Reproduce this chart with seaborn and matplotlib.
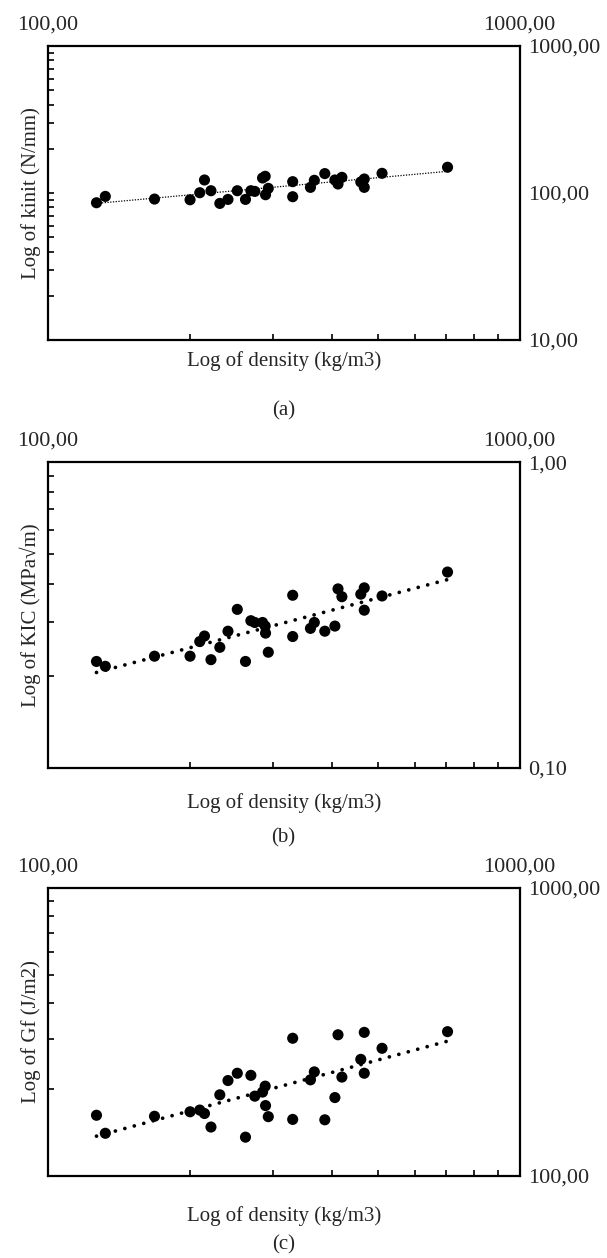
import numpy as np
import pandas as pd
import matplotlib
matplotlib.use('Agg')
import matplotlib.pyplot as plt
import seaborn as sns
from matplotlib.ticker import FuncFormatter, FixedLocator, LogLocator, NullFormatter

# density of each sample (kg/m3), shared by the three plots
density = [126.7, 132.3, 168.2, 200.1, 209.8, 214.7, 221.6, 231.4, 240.8, 252.0,
           262.3, 269.3, 274.5, 285.1, 288.8, 289.3, 293.2, 330.3, 330.3, 360.2,
           367.1, 386.4, 405.9, 412.1, 420.0, 460.6, 468.5, 468.5, 511.0, 703.6]

kinit = [85.9, 94.9, 91.0, 90.0, 100.5, 122.7, 103.7, 85.0, 90.5, 103.7,
         90.5, 103.7, 102.6, 126.6, 130.0, 97.4, 107.6, 119.5, 94.4, 109.3,
         122.1, 135.6, 122.7, 115.2, 127.9, 118.9, 124.6, 109.3, 136.2, 149.8]

kic = [0.223, 0.215, 0.232, 0.232, 0.259, 0.270, 0.226, 0.248, 0.280, 0.330,
       0.223, 0.303, 0.299, 0.299, 0.291, 0.276, 0.239, 0.367, 0.269, 0.286,
       0.299, 0.280, 0.291, 0.385, 0.363, 0.370, 0.388, 0.328, 0.365, 0.437]

gf = [162.5, 140.7, 161.2, 167.1, 169.4, 164.8, 147.9, 191.4, 214.5, 227.4,
      136.4, 223.6, 189.3, 195.6, 205.1, 175.6, 160.7, 300.8, 157.2, 215.7,
      229.9, 156.7, 187.2, 309.3, 220.5, 254.1, 315.3, 227.4, 277.6, 317.1]

x_ticks = [100, 1000]
x_label = 'Log of density (kg/m3)'
y_labels = ['Log of kinit (N/mm)', 'Log of KIC (MPa\u221am)', 'Log of Gf (J/m2)']
y_limits = [(10, 1000), (0.1, 1), (100, 1000)]
panel_names = ['(a)', '(b)', '(c)']

sns.set_style('white')
plt.rcParams['font.family'] = ['Liberation Serif', 'DejaVu Serif']


def comma_formatter(v, pos):
    return f'{v:.2f}'.replace('.', ',')


def draw_panel(ax, values, ylabel, ylim, line_kw, xlabel_pad):
    ax.set_xscale('log')
    ax.set_yscale('log')
    df = pd.DataFrame({'density': density, 'value': values})

    # power law trend (straight line in log-log)
    slope, icpt = np.polyfit(np.log10(df['density']), np.log10(df['value']), 1)
    xs = np.array([df['density'].min(), df['density'].max()])
    ax.plot(xs, 10 ** icpt * xs ** slope, color='black', zorder=2, **line_kw)

    sns.scatterplot(data=df, x='density', y='value', color='black', s=64,
                    edgecolor='none', ax=ax, zorder=3, legend=False)

    ax.set_xlim(100, 1000)
    ax.set_ylim(*ylim)
    ax.xaxis.set_major_locator(FixedLocator(x_ticks))
    ax.xaxis.set_minor_locator(LogLocator(base=10, subs=np.arange(2, 10)))
    ax.xaxis.set_major_formatter(FuncFormatter(comma_formatter))
    ax.xaxis.set_minor_formatter(NullFormatter())
    ax.yaxis.set_major_locator(LogLocator(base=10))
    ax.yaxis.set_minor_locator(LogLocator(base=10, subs=np.arange(2, 10)))
    ax.yaxis.set_major_formatter(FuncFormatter(comma_formatter))
    ax.yaxis.set_minor_formatter(NullFormatter())

    ax.tick_params(axis='x', which='both', direction='in', bottom=True, top=False,
                   labelbottom=False, labeltop=True, length=4, width=1.2,
                   labelsize=16, pad=8, color='black')
    ax.tick_params(axis='y', which='both', direction='in', left=True, right=False,
                   labelleft=False, labelright=True, length=4, width=1.2,
                   labelsize=16, pad=6, color='black')

    for sp in ax.spines.values():
        sp.set_visible(True)
        sp.set_color('black')
        sp.set_linewidth(1.6)

    ax.set_xlabel(x_label, fontsize=15, labelpad=xlabel_pad)
    ax.set_ylabel(ylabel, fontsize=15, labelpad=5)


fig = plt.figure(figsize=(6.07, 12.58), dpi=100)

boxes = [[0.0791, 0.7297, 0.7768, 0.2337],
         [0.0791, 0.3895, 0.7768, 0.2432],
         [0.0791, 0.0652, 0.7768, 0.2289]]
line_styles = [dict(linewidth=0.9, linestyle=(0, (1, 1.2))),
               dict(linewidth=2.7, linestyle=(0, (0.01, 2.6)), dash_capstyle='round'),
               dict(linewidth=2.7, linestyle=(0, (0.01, 2.6)), dash_capstyle='round')]
xlabel_pads = [8, 18, 22]
panel_y = [0.6733, 0.334, 0.0103]

for i, values in enumerate([kinit, kic, gf]):
    ax = fig.add_axes(boxes[i])
    draw_panel(ax, values, y_labels[i], y_limits[i], line_styles[i], xlabel_pads[i])
    fig.text(0.467, panel_y[i], panel_names[i], ha='center', va='center', fontsize=15)

fig.savefig('out.png', dpi=100, facecolor='white')
